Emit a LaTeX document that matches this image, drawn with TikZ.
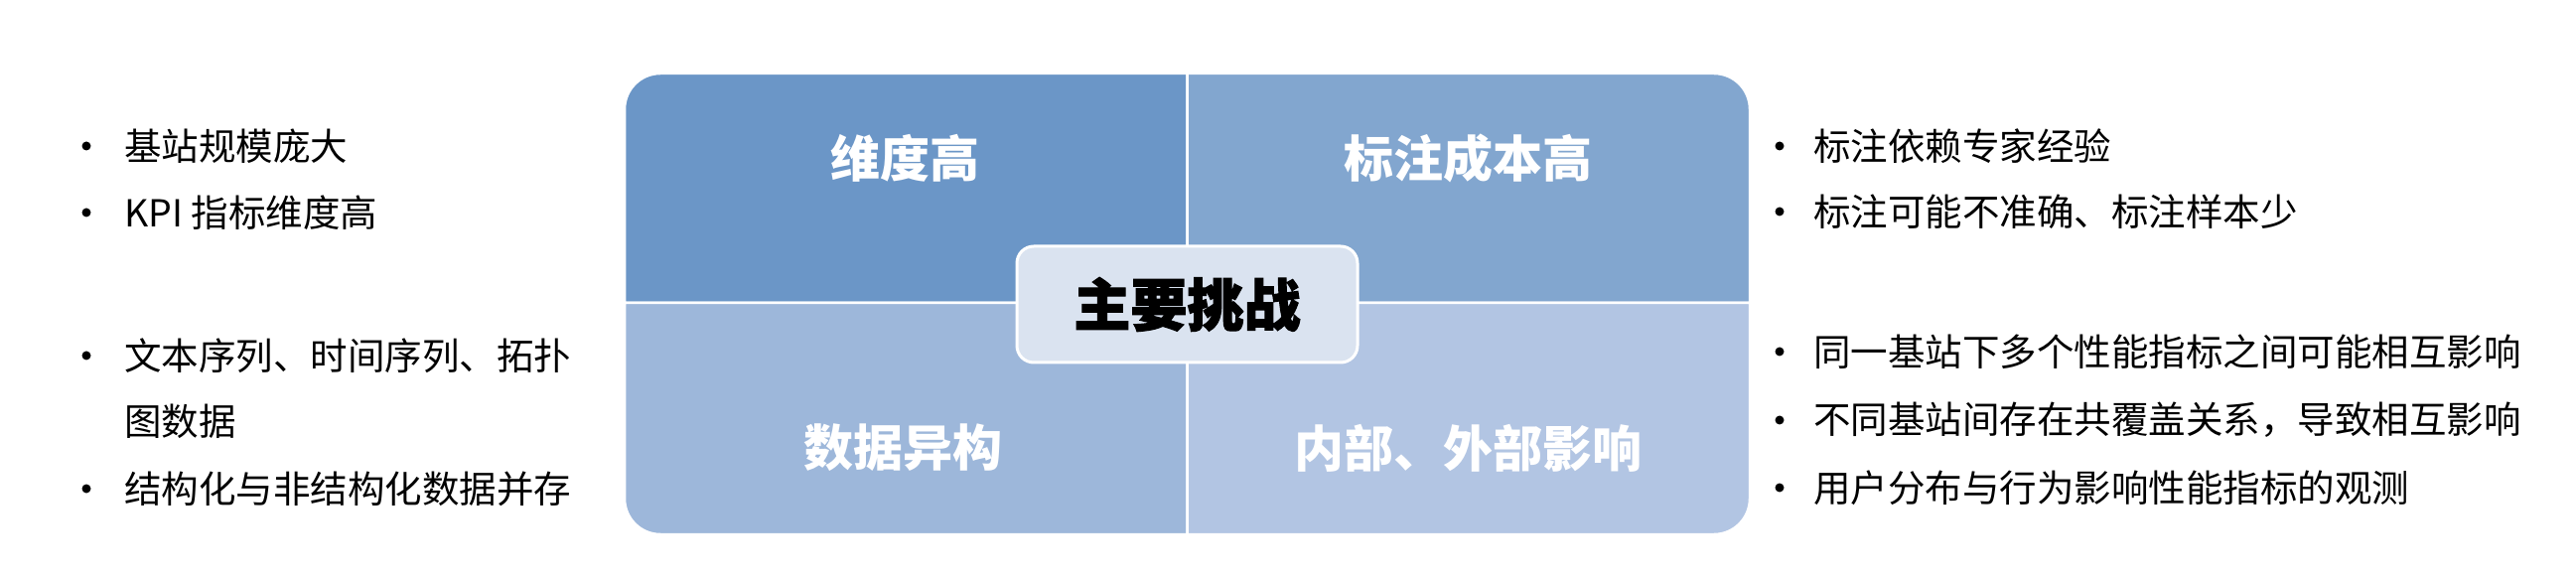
\documentclass[tikz,border=0pt]{standalone}
\usepackage{fontspec}
\setmainfont{Noto Sans CJK SC}
\newfontfamily\hubfont{Noto Sans CJK SC}[FakeBold=2]
\usepackage{tikz}

\definecolor{quadA}{HTML}{6B96C7}
\definecolor{quadB}{HTML}{82A6CF}
\definecolor{quadC}{HTML}{9DB7DA}
\definecolor{quadD}{HTML}{B2C5E3}
\definecolor{hubfill}{HTML}{DAE3F0}

\tikzset{
  quad/.style={draw=white, line width=2.5pt},
  quadlabel/.style={text=white, inner sep=0pt, font=\fontsize{50}{60}\selectfont\bfseries},
  hub/.style={fill=hubfill, draw=white, line width=3pt, rounded corners=17pt,
    minimum width=343pt, minimum height=117pt, inner sep=0pt,
    font=\fontsize{57}{68}\selectfont\hubfont\bfseries},
  item/.style={anchor=west, inner sep=0pt, align=left, font=\fontsize{37.5}{66}\selectfont},
}

\begin{document}
\begin{tikzpicture}[x=1pt,y=1pt]
  \useasboundingbox (0,0) rectangle (2594,584);

  % four quadrants, only the outer corners rounded
  \draw[quad, fill=quadA] (1195.5,279) -- (629,279) -- (629,474)
    arc[start angle=180, end angle=90, radius=36pt] -- (1195.5,510) -- cycle;
  \draw[quad, fill=quadB] (1195.5,279) -- (1195.5,510) -- (1726,510)
    arc[start angle=90, end angle=0, radius=36pt] -- (1762,279) -- cycle;
  \draw[quad, fill=quadC] (629,279) -- (1195.5,279) -- (1195.5,46) -- (665,46)
    arc[start angle=270, end angle=180, radius=36pt] -- cycle;
  \draw[quad, fill=quadD] (1195.5,279) -- (1762,279) -- (1762,82)
    arc[start angle=0, end angle=-90, radius=36pt] -- (1195.5,46) -- cycle;

  \node[quadlabel] (dim) at (911,425) {维度高};
  \node[quadlabel] (cost) at (1478,425) {标注成本高};
  \node[quadlabel] (hetero) at (909,133) {数据异构};
  \node[quadlabel] (influence) at (1478,133) {内部、外部影响};

  \node[hub] (hub) at (1195.5,277.5) {主要挑战};

  % left bullets
  \fill (87,437) circle (4.5pt);
  \node[item] (left1) at (125,437) {基站规模庞大};
  \fill (87,370) circle (4.5pt);
  \node[item] (left2) at (125,370) {KPI 指标维度高};
  \fill (87,226) circle (4.5pt);
  \node[item] (left3) at (125,193) {文本序列、时间序列、拓扑\\图数据};
  \fill (87,92) circle (4.5pt);
  \node[item] (left4) at (125,92) {结构化与非结构化数据并存};

  % right bullets
  \fill (1792,437) circle (4.5pt);
  \node[item] (right1) at (1826,437) {标注依赖专家经验};
  \fill (1792,371) circle (4.5pt);
  \node[item] (right2) at (1826,371) {标注可能不准确、标注样本少};
  \fill (1792,230) circle (4.5pt);
  \node[item] (right3) at (1826,230) {同一基站下多个性能指标之间可能相互影响};
  \fill (1792,161) circle (4.5pt);
  \node[item] (right4) at (1826,161) {不同基站间存在共覆盖关系，导致相互影响};
  \fill (1792,93) circle (4.5pt);
  \node[item] (right5) at (1826,93) {用户分布与行为影响性能指标的观测};
\end{tikzpicture}
\end{document}
